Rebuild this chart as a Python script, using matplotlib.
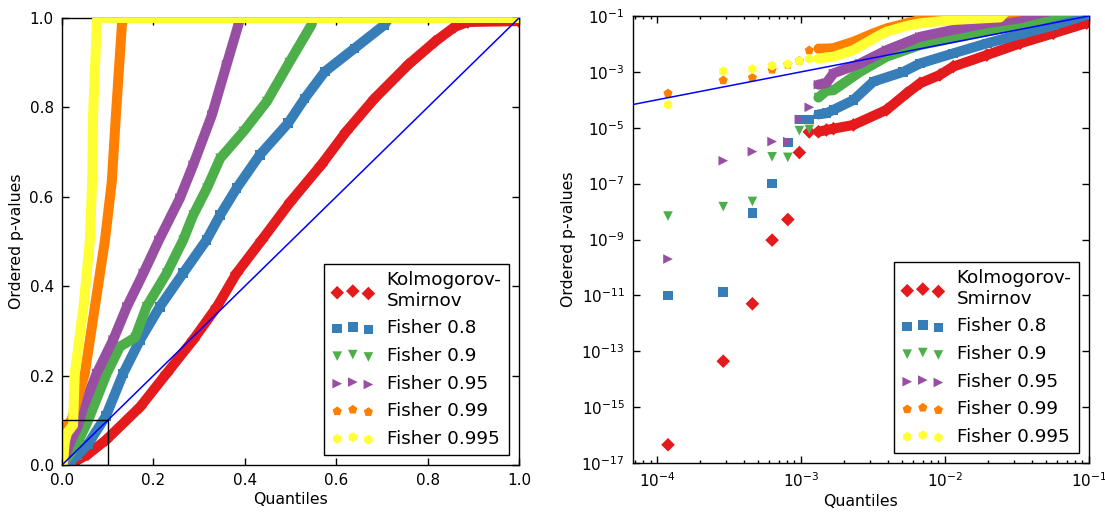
import numpy as np
import matplotlib.pyplot as plt
import matplotlib.patches as mpatches
from matplotlib.ticker import NullLocator

# Quantiles of the first ten (individually visible) ordered p-values
q_first = [1.19e-4, 2.88e-4, 4.59e-4, 6.29e-4, 8.09e-4,
           9.73e-4, 1.14e-3, 1.32e-3, 1.50e-3, 1.68e-3]

# Kolmogorov-Smirnov
q_ks = q_first + [2.31e-3, 3.93e-3, 5.41e-3, 6.70e-3, 9.22e-3, 1.14e-2, 1.95e-2,
                  3.32e-2, 5.65e-2, 9.64e-2, 0.171, 0.229, 0.287, 0.339, 0.382,
                  0.437, 0.500, 0.567, 0.622, 0.684, 0.757, 0.816, 0.859, 0.888, 1.0]
p_ks = [4.5e-17, 4.4e-14, 5.0e-12, 9.5e-10, 5.2e-9, 1.3e-6, 7.1e-6, 7.2e-6, 8.3e-6,
        9.3e-6, 1.26e-5, 4.4e-5, 1.7e-4, 3.9e-4, 7.8e-4, 1.55e-3, 4.0e-3, 1.05e-2,
        2.4e-2, 5.6e-2, 0.130, 0.205, 0.280, 0.354, 0.429, 0.503, 0.589, 0.671,
        0.746, 0.820, 0.895, 0.947, 0.980, 0.991, 0.993]

# Fisher 0.8
q_f80 = q_first + [2.31e-3, 3.18e-3, 5.13e-3, 6.70e-3, 1.14e-2, 1.95e-2, 3.32e-2,
                   5.65e-2, 9.64e-2, 0.134, 0.171, 0.214, 0.265, 0.316, 0.346,
                   0.382, 0.433, 0.495, 0.531, 0.575, 0.640, 0.706, 0.715, 1.0]
p_f80 = [1.0e-11, 1.3e-11, 8.9e-9, 1.0e-7, 3.0e-6, 2.0e-5, 2.0e-5, 3.0e-5, 3.3e-5,
         4.4e-5, 9.8e-5, 4.5e-4, 1.0e-3, 2.0e-3, 4.6e-3, 1.05e-2, 2.2e-2, 4.6e-2,
         0.110, 0.205, 0.280, 0.354, 0.429, 0.503, 0.559, 0.619, 0.694, 0.765,
         0.820, 0.880, 0.932, 0.985, 1.0, 1.0]

# Fisher 0.9
q_f90 = q_first + [2.57e-3, 3.93e-3, 6.70e-3, 1.14e-2, 1.95e-2, 3.32e-2, 5.65e-2,
                   0.098, 0.127, 0.160, 0.185, 0.229, 0.265, 0.287, 0.317, 0.346,
                   0.397, 0.448, 0.497, 0.546, 0.55, 1.0]
p_f90 = [6.9e-9, 1.5e-8, 2.3e-8, 9.1e-7, 8.7e-7, 7.9e-6, 8.7e-6, 1.2e-4, 2.1e-4,
         2.2e-4, 1.0e-3, 3.5e-3, 9.1e-3, 1.6e-2, 2.8e-2, 4.8e-2, 0.098, 0.205,
         0.265, 0.285, 0.354, 0.429, 0.503, 0.559, 0.619, 0.686, 0.746, 0.813,
         0.900, 0.985, 1.0, 1.0]

# Fisher 0.95
q_f95 = q_first + [2.57e-3, 3.93e-3, 6.70e-3, 1.14e-2, 1.95e-2, 3.32e-2, 0.047,
                   0.076, 0.112, 0.142, 0.178, 0.212, 0.258, 0.287, 0.328, 0.360,
                   0.386, 0.39, 1.0]
p_f95 = [2.0e-10, 6.6e-7, 1.4e-6, 3.2e-6, 3.2e-6, 2.0e-5, 5.4e-5, 3.5e-4, 4.0e-4,
         8.9e-4, 2.0e-3, 6.0e-3, 1.8e-2, 3.2e-2, 5.5e-2, 8.3e-2, 0.130, 0.205,
         0.280, 0.354, 0.429, 0.503, 0.597, 0.671, 0.783, 0.895, 0.985, 1.0, 1.0]

# Fisher 0.99
q_f99 = q_first + [2.31e-3, 3.18e-3, 3.93e-3, 5.41e-3, 7.5e-3, 0.021, 0.050, 0.072,
                   0.094, 0.109, 0.118, 0.131, 0.134, 1.0]
p_f99 = [1.7e-4, 5.0e-4, 6.2e-4, 1.2e-3, 1.8e-3, 2.5e-3, 5.9e-3, 6.8e-3, 6.8e-3,
         7.1e-3, 1.2e-2, 2.4e-2, 3.6e-2, 5.5e-2, 8.3e-2, 0.101, 0.205, 0.354,
         0.503, 0.634, 0.783, 0.984, 1.0, 1.0]

# Fisher 0.995
q_f995 = q_first + [2.31e-3, 3.35e-3, 3.93e-3, 5.41e-3, 6.70e-3, 1.14e-2, 2.41e-2,
                    0.028, 0.047, 0.061, 0.066, 0.068, 0.076, 0.077, 1.0]
p_f995 = [6.7e-5, 1.07e-3, 1.26e-3, 1.66e-3, 1.9e-3, 2.45e-3, 2.95e-3, 2.95e-3,
          3.3e-3, 3.5e-3, 6.0e-3, 1.8e-2, 2.75e-2, 4.4e-2, 5.5e-2, 7.2e-2, 8.9e-2,
          0.205, 0.354, 0.503, 0.634, 0.783, 0.984, 1.0, 1.0]

labels = ['Kolmogorov-\nSmirnov', 'Fisher 0.8', 'Fisher 0.9', 'Fisher 0.95',
          'Fisher 0.99', 'Fisher 0.995']
series = [(q_ks, p_ks), (q_f80, p_f80), (q_f90, p_f90), (q_f95, p_f95),
          (q_f99, p_f99), (q_f995, p_f995)]
colors = ['#e41a1c', '#377eb8', '#4daf4a', '#984ea3', '#ff7f00', '#ffff33']
markers = ['D', 's', 'v', '>', 'p', 'h']

plt.rcParams['font.family'] = 'DejaVu Sans'
plt.rcParams['mathtext.fontset'] = 'dejavusans'


def draw_panel(ax):
    for i, ((q, p), c, m, lab) in enumerate(zip(series, colors, markers, labels)):
        q = np.array(q)
        p = np.array(p)
        dense = q >= 1.3e-3  # past the first few points the markers merge into a band
        ax.plot(q[dense], p[dense], color=c, lw=7.2, solid_capstyle='round',
                solid_joinstyle='round', zorder=2 + i)
        ax.scatter(q, p, s=48, marker=m, color=c, edgecolors='none',
                   label=lab, zorder=2 + i)
    ax.plot([1e-6, 1], [1e-6, 1], color='b', lw=1.1, zorder=20)
    ax.tick_params(which='both', direction='in', top=True, right=True,
                   labelsize=11, width=1)
    ax.tick_params(which='major', length=5, pad=6)
    ax.tick_params(which='minor', length=2.5)
    for sp in ax.spines.values():
        sp.set_linewidth(1.0)
    ax.set_xlabel('Quantiles', fontsize=11.3, labelpad=3)
    ax.set_ylabel('Ordered p-values', fontsize=11.3)
    leg = ax.legend(loc='lower right', scatterpoints=3,
                    scatteryoffsets=[0.375, 0.5, 0.3125], fontsize=13.2,
                    fancybox=False, framealpha=1, edgecolor='black',
                    borderaxespad=0.55, handletextpad=0.7, labelspacing=0.52,
                    handlelength=2.3)
    leg.get_frame().set_linewidth(1.0)


fig = plt.figure(figsize=(11.05, 5.15), dpi=100)
ax1 = fig.add_axes([62 / 1105, 1 - 465 / 515, 457 / 1105, 447 / 515])
ax2 = fig.add_axes([633 / 1105, 1 - 463 / 515, 456 / 1105, 447 / 515])

# Linear view
draw_panel(ax1)
ax1.add_patch(mpatches.Rectangle((0, 0), 0.1, 0.1, fill=False, edgecolor='black',
                                 lw=1.0, zorder=21))
ax1.set_xlim(0, 1)
ax1.set_ylim(0, 1)
ax1.set_xticks(np.arange(0, 1.01, 0.2))
ax1.set_yticks(np.arange(0, 1.01, 0.2))

# Log-log view of the lower-left corner
draw_panel(ax2)
ax2.set_xscale('log')
ax2.set_yscale('log')
ax2.set_xlim(6.8e-5, 0.1)
ax2.set_ylim(1e-17, 0.1)
ax2.set_yticks([10.0 ** k for k in range(-17, 0, 2)])
ax2.yaxis.set_minor_locator(NullLocator())

fig.savefig('out.png', dpi=100)
